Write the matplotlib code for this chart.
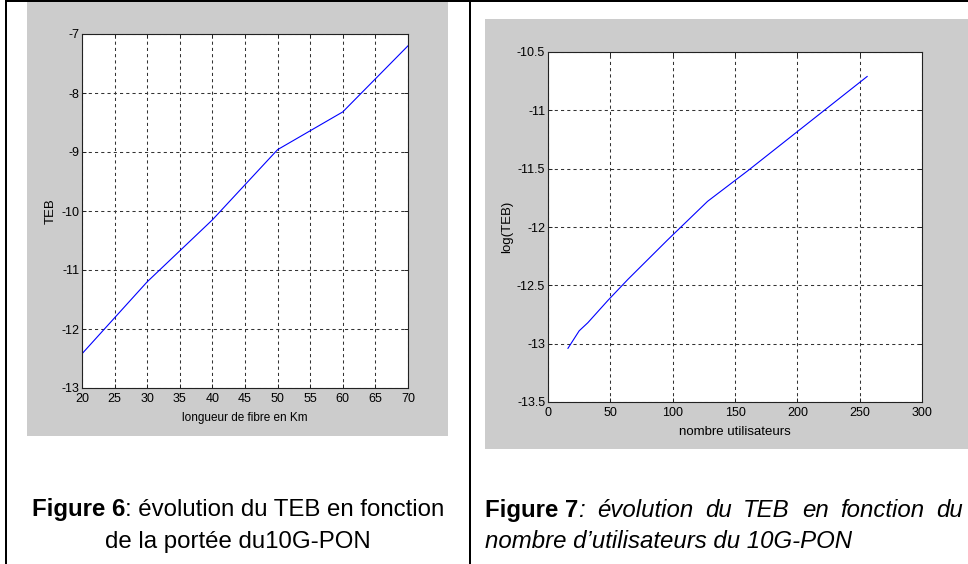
import matplotlib
matplotlib.use("Agg")
import matplotlib.pyplot as plt
from matplotlib.patches import Rectangle

# data
fibre_km = [20, 30, 40, 50, 60, 70]
teb_fibre = [-12.42, -11.2, -10.15, -8.96, -8.32, -7.2]
fibre_xticks = [20, 25, 30, 35, 40, 45, 50, 55, 60, 65, 70]
fibre_yticks = [-13, -12, -11, -10, -9, -8, -7]
fibre_yticklabels = ['-13', '-12', '-11', '-10', '-9', '-8', '-7']

users = [16, 25, 32, 48, 64, 96, 128, 160, 192, 224, 256]
teb_users = [-13.04, -12.89, -12.82, -12.63, -12.45, -12.11, -11.78, -11.52, -11.25, -10.98, -10.71]
users_xticks = [0, 50, 100, 150, 200, 250, 300]
users_yticks = [-13.5, -13, -12.5, -12, -11.5, -11, -10.5]
users_yticklabels = ['-13.5', '-13', '-12.5', '-12', '-11.5', '-11', '-10.5']

W, H = 968, 564
NARROW = ['Liberation Sans Narrow', 'Liberation Sans', 'DejaVu Sans']
ARIAL = ['Liberation Sans', 'DejaVu Sans']


def box(x0, y0, x1, y1):
    # pixel box (top-left origin) -> figure fraction rect
    return [x0 / W, 1 - y1 / H, (x1 - x0) / W, (y1 - y0) / H]


def fy(y):
    return 1 - y / H


fig = plt.figure(figsize=(W / 100, H / 100), dpi=100)
fig.patch.set_facecolor('white')

# table borders
for (x0, y0, x1, y1) in [(5, 0, 968, 2), (5, 0, 7, 564), (469, 0, 471, 564)]:
    fig.patches.append(Rectangle((x0 / W, 1 - y1 / H), (x1 - x0) / W, (y1 - y0) / H,
                                 transform=fig.transFigure, facecolor='black',
                                 edgecolor='none', zorder=-1))

# grey matlab figure backgrounds
for (x0, y0, x1, y1) in [(27, 2, 448, 436), (485, 19, 968, 449)]:
    fig.patches.append(Rectangle((x0 / W, 1 - y1 / H), (x1 - x0) / W, (y1 - y0) / H,
                                 transform=fig.transFigure, facecolor='#cccccc',
                                 edgecolor='none', zorder=-1))


def matlab_axes(rect, x, y, xlim, ylim, xticks, yticks, yticklabels, xlabel, ylabel, xlab_size):
    ax = fig.add_axes(rect)
    ax.plot(x, y, color='#0000ff', lw=0.8)
    ax.set_xlim(xlim)
    ax.set_ylim(ylim)
    ax.set_xticks(xticks)
    ax.set_xticklabels([str(t) for t in xticks])
    ax.set_yticks(yticks)
    ax.set_yticklabels(yticklabels)
    for lab in ax.get_xticklabels() + ax.get_yticklabels():
        lab.set_family(NARROW)
        lab.set_fontsize(9)
    ax.tick_params(direction='in', length=3, width=0.7, top=True, right=True, color='#222222')
    ax.tick_params(axis='y', pad=2)
    ax.tick_params(axis='x', pad=3.5)
    ax.grid(True, color='#333333', linestyle=(0, (3, 3)), linewidth=0.75)
    for s in ax.spines.values():
        s.set_linewidth(0.8)
        s.set_color('#222222')
    ax.set_xlabel(xlabel, family=NARROW, fontsize=xlab_size, labelpad=5)
    ax.set_ylabel(ylabel, family=ARIAL, fontsize=9.5, labelpad=3)
    return ax


ax1 = matlab_axes(box(82, 34, 408, 388), fibre_km, teb_fibre, (20, 70), (-13, -7),
                  fibre_xticks, fibre_yticks, fibre_yticklabels,
                  'longueur de fibre en Km', 'TEB', 8.5)
ax2 = matlab_axes(box(548, 52, 922, 402), users, teb_users, (0, 300), (-13.5, -10.5),
                  users_xticks, users_yticks, users_yticklabels,
                  'nombre utilisateurs', 'log(TEB)', 9.5)

# captions
CAP = 17.3
renderer = fig.canvas.get_renderer()

# left caption, centred in the cell
t1 = fig.text(0, fy(516), 'Figure 6', family=ARIAL, weight='bold', fontsize=CAP, va='baseline')
t2 = fig.text(0, fy(516), ': évolution du TEB en fonction', family=ARIAL, fontsize=CAP, va='baseline')
w1 = t1.get_window_extent(renderer).width
w2 = t2.get_window_extent(renderer).width
start = 238 - (w1 + w2) / 2
t1.set_x(start / W)
t2.set_x((start + w1) / W)
fig.text(238 / W, fy(548), 'de la portée du10G-PON', family=ARIAL, fontsize=CAP,
         va='baseline', ha='center')

# right caption, first line justified between 485 and 963 px
head = fig.text(485 / W, fy(517), 'Figure 7', family=ARIAL, weight='bold', fontsize=CAP, va='baseline')
hw = head.get_window_extent(renderer).width
colon = fig.text((485 + hw) / W, fy(517), ':', family=ARIAL, style='italic', fontsize=CAP, va='baseline')
first_end = 485 + hw + colon.get_window_extent(renderer).width
words = ['évolution', 'du', 'TEB', 'en', 'fonction', 'du']
word_txt = [fig.text(0, fy(517), w, family=ARIAL, style='italic', fontsize=CAP, va='baseline')
            for w in words]
word_w = [t.get_window_extent(renderer).width for t in word_txt]
gap = (963 - first_end - sum(word_w)) / len(words)
xx = first_end + gap
for t, ww in zip(word_txt, word_w):
    t.set_x(xx / W)
    xx += ww + gap
fig.text(485 / W, fy(548), 'nombre d\u2019utilisateurs du 10G-PON', family=ARIAL,
         style='italic', fontsize=CAP, va='baseline')

fig.savefig('out.png', dpi=100)
